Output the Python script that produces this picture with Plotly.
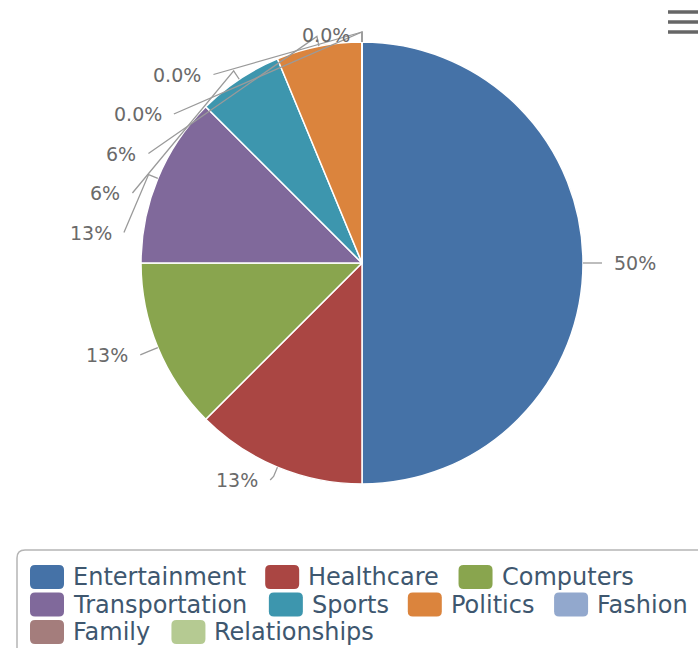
import math
import plotly.graph_objects as go

# ---------------- data ----------------
categories = ["Entertainment", "Healthcare", "Computers", "Transportation",
              "Sports", "Politics", "Fashion", "Family", "Relationships"]
values = [8, 2, 2, 2, 1, 1, 0, 0, 0]
colors = ["#4572A7", "#AA4643", "#89A54E", "#80699B", "#3D96AE",
          "#DB843D", "#92A8CD", "#A47D7C", "#B5CA92"]

# ---------------- geometry (pixels of the page) ----------------
W, H = 698, 648
CX, CY, R = 362, 263, 221
LD = 240          # label radius
SLOT = 39.5       # label slot height
YMIN, YMAX = 35, 480


def px(x):
    return x / W


def py(y):
    return 1 - y / H


total = sum(values)
pcts = [v / total * 100 for v in values]
texts = ["0.0%" if p == 0 else f"{int(p + 0.5)}%" for p in pcts]

# mid angles, clockwise from 12 o'clock
mids = []
acc = 0
for v in values:
    a0 = acc / total * 2 * math.pi
    acc += v
    a1 = acc / total * 2 * math.pi
    mids.append((a0 + a1) / 2)

shapes = []
annotations = []

LABEL_FONT = dict(family="DejaVu Sans", size=19, color="#6a6a6a")
CONN = dict(color="#9a9a9a", width=1.3)


def getx(y, left):
    d = max(-LD, min(LD, y - CY))
    dx = math.sqrt(LD * LD - d * d)
    return CX - dx if left else CX + dx


def add_label(i, x, y, left):
    th = mids[i]
    ex, ey = CX + R * math.sin(th), CY - R * math.cos(th)
    bx, by = CX + (R + 10) * math.sin(th), CY - (R + 10) * math.cos(th)
    shapes.append(dict(type="path", xref="paper", yref="paper",
                       path=f"M {px(x)},{py(y)} L {px(bx)},{py(by)} L {px(ex)},{py(ey)}",
                       line=CONN))
    annotations.append(dict(xref="paper", yref="paper", showarrow=False,
                            x=px(x - 10 if left else x + 10), y=py(y),
                            xanchor="right" if left else "left", yanchor="middle",
                            text=texts[i], font=LABEL_FONT))


left_items, right_items = [], []
for i, th in enumerate(mids):
    nx, ny = CX + LD * math.sin(th), CY - LD * math.cos(th)
    (left_items if th > math.pi else right_items).append((ny, nx, i))

for ny, nx, i in right_items:
    add_label(i, nx, ny, False)

left_items.sort(key=lambda t: t[0])
ys = [min(max(t[0], YMIN), YMAX) for t in left_items]
for k in range(1, len(ys)):
    ys[k] = max(ys[k], ys[k - 1] + SLOT)
ys[-1] = min(ys[-1], YMAX)
for k in range(len(ys) - 2, -1, -1):
    ys[k] = min(ys[k], ys[k + 1] - SLOT)
for k, (ny, nx, i) in enumerate(left_items):
    if k == 0 or k == len(left_items) - 1:
        x = nx
    else:
        x = getx(ys[k], True)
    add_label(i, x, ys[k], True)

# ---------------- custom legend ----------------
LEG_FONT = 24
CW = {' ': .318, 'C': .698, 'E': .632, 'F': .575, 'H': .752, 'P': .603, 'R': .695,
      'S': .635, 'T': .611, 'a': .613, 'c': .550, 'e': .615, 'f': .352, 'h': .634,
      'i': .278, 'l': .278, 'm': .974, 'n': .634, 'o': .612, 'p': .635, 'r': .411,
      's': .521, 't': .392, 'u': .634, 'y': .592}


def text_w(s):
    return sum(CW.get(c, 0.6) for c in s) * LEG_FONT


def rrect(x0, y0, x1, y1, r):
    return (f"M {px(x0 + r)},{py(y0)} L {px(x1 - r)},{py(y0)} "
            f"Q {px(x1)},{py(y0)} {px(x1)},{py(y0 + r)} L {px(x1)},{py(y1 - r)} "
            f"Q {px(x1)},{py(y1)} {px(x1 - r)},{py(y1)} L {px(x0 + r)},{py(y1)} "
            f"Q {px(x0)},{py(y1)} {px(x0)},{py(y1 - r)} L {px(x0)},{py(y0 + r)} "
            f"Q {px(x0)},{py(y0)} {px(x0 + r)},{py(y0)} Z")


# legend frame (extends beyond the visible area)
LX0, LY0, LR = 17, 550, 8
shapes.append(dict(type="path", xref="paper", yref="paper",
                   path=(f"M {px(LX0)},{py(H + 20)} L {px(LX0)},{py(LY0 + LR)} "
                         f"Q {px(LX0)},{py(LY0)} {px(LX0 + LR)},{py(LY0)} L {px(W + 20)},{py(LY0)}"),
                   line=dict(color="#b5b5b5", width=1.5)))

SW, SH, GAP, ITEM_GAP = 34, 24, 9, 19
X_START, ROW0, ROW_H, LIMIT = 30, 577, 27.5, 760
x, row = X_START, 0
for name, col in zip(categories, colors):
    w = SW + GAP + text_w(name)
    if x + w > LIMIT and x > X_START:
        row += 1
        x = X_START
    yc = ROW0 + row * ROW_H
    shapes.append(dict(type="path", xref="paper", yref="paper",
                       path=rrect(x, yc - SH / 2, x + SW, yc + SH / 2, 5),
                       fillcolor=col, line=dict(width=0)))
    annotations.append(dict(xref="paper", yref="paper", showarrow=False,
                            x=px(x + SW + GAP - 2), y=py(yc), xanchor="left", yanchor="middle",
                            text=name, font=dict(family="DejaVu Sans", size=LEG_FONT, color="#3E576F")))
    x += w + ITEM_GAP

# export menu icon
for yy in (12, 22, 32):
    shapes.append(dict(type="line", xref="paper", yref="paper",
                       x0=px(668), x1=px(W + 10), y0=py(yy), y1=py(yy),
                       line=dict(color="#666666", width=3.5)))

fig = go.Figure(go.Pie(
    labels=categories, values=values, sort=False, direction="clockwise", rotation=0,
    marker=dict(colors=colors, line=dict(color="white", width=1.5)),
    textinfo="none", hoverinfo="none", showlegend=False,
    domain=dict(x=[px(CX - R), px(CX + R)], y=[py(CY + R), py(CY - R)]),
))
fig.update_layout(width=W, height=H, margin=dict(l=0, r=0, t=0, b=0),
                  paper_bgcolor="white", plot_bgcolor="white",
                  shapes=shapes, annotations=annotations, showlegend=False)
fig.write_html("out.html", config={"displayModeBar": False},
               post_script="document.body.style.margin='0';document.body.style.overflow='hidden';")
